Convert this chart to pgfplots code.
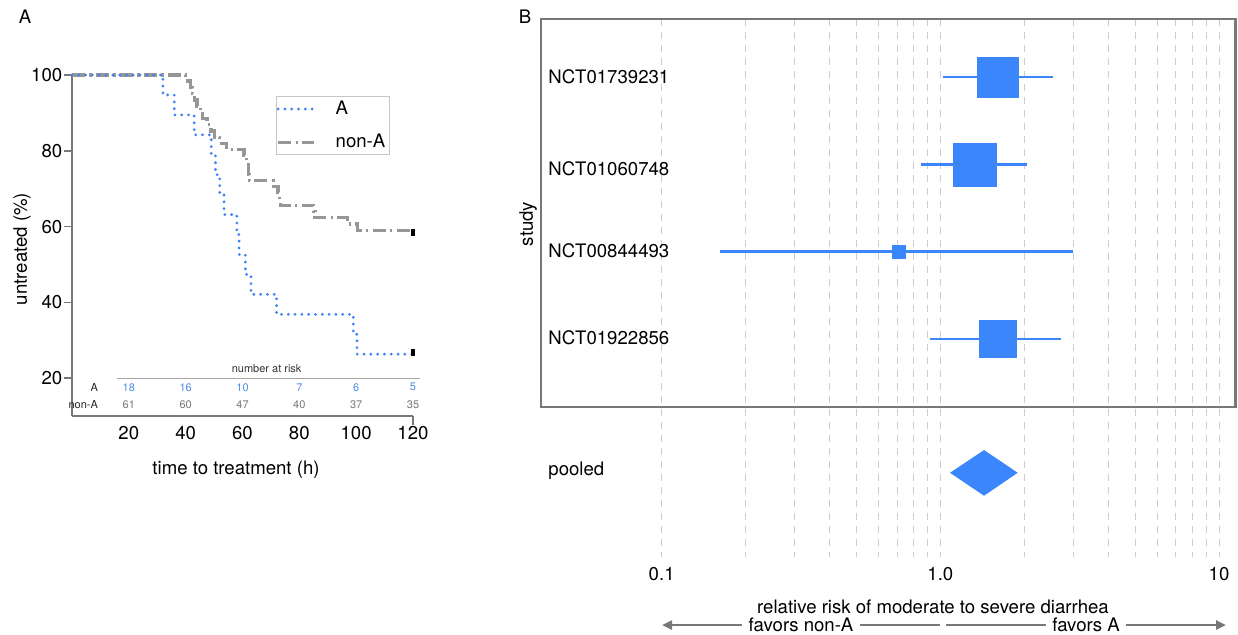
\documentclass[border=0pt]{standalone}
\usepackage{fontspec}
\setmainfont{TeX Gyre Heros}
\usepackage{pgfplots}
\pgfplotsset{compat=1.18}
\usetikzlibrary{arrows.meta}

\definecolor{kmblue}{RGB}{60,132,245}
\definecolor{kmgray}{RGB}{150,150,150}
\definecolor{fblue}{RGB}{59,134,250}
\definecolor{axgray}{RGB}{120,120,120}
\definecolor{gridgray}{RGB}{205,205,205}
\definecolor{riskblue}{RGB}{80,140,230}
\definecolor{riskgray}{RGB}{120,120,120}

\newcommand{\mainfont}{\fontsize{9.3}{11}\selectfont}
\newcommand{\smallfont}{\fontsize{5.5}{6.5}\selectfont}

\pgfplotsset{
  /pgf/number format/assume math mode=true,
  astyle/.style={kmblue, line width=1.55pt, line cap=round, dash pattern=on 0pt off 3.4pt},
  nstyle/.style={kmgray, line width=1.6pt, dash pattern=on 6.5pt off 2.2pt on 1.1pt off 2.2pt},
}

\begin{document}
\begin{tikzpicture}[font=\mainfont]
\path[use as bounding box] (0pt,0pt) rectangle (619pt,-317pt);

% ---- panel A: time to treatment
\begin{axis}[
  at={(36pt,-208pt)}, anchor=south west,
  scale only axis, width=170.5pt, height=170.5pt,
  xmin=0, xmax=120, ymin=10, ymax=100,
  axis x line*=bottom, axis y line*=left,
  axis line style={-, axgray, line width=0.85pt},
  xtick={20,40,60,80,100,120},
  ytick={20,40,60,80,100},
  tick align=outside, major tick length=4.2pt,
  y tick style={axgray, line width=0.8pt},
  x tick style={draw=none},
  tick label style={font=\mainfont},
  xticklabel style={anchor=center, yshift=-4.25pt},
  yticklabel style={inner xsep=0.5pt},
  clip=false,
  legend style={at={(0.598,0.938)}, anchor=north west, draw=gray!45,
    line width=0.6pt, inner xsep=0pt, inner ysep=0pt, row sep=4.5pt,
    font=\mainfont,
    /tikz/every odd column/.append style={column sep=8pt}},
  legend cell align=left,
  legend image code/.code={\draw[#1] (0pt,0pt) -- (18pt,0pt);},
]
\addlegendimage{astyle}
\addlegendentry{A}
\addlegendimage{nstyle}
\addlegendentry{non-A}

\addplot[const plot, nstyle, forget plot] coordinates {
  (0,100) (40,98.4) (41.8,96.7) (42.4,95.1) (43.2,93.4) (44,91.8)
  (45.3,90.2) (46,88.5) (47.5,86.9) (48.9,85.2) (50.2,83.6) (52,82.0)
  (54.5,80.3) (60.5,78.7) (61.5,77.0) (62,75.4) (62.2,73.8) (62.4,72.1)
  (71,70.5) (72.5,68.9) (73,67.2) (73.3,65.6) (85,64.0) (85.5,62.3)
  (96.9,60.7) (100.4,59.0) (120,59.0)
};
\addplot[const plot, astyle, forget plot] coordinates {
  (0,100) (32,94.74) (36,89.47) (43,84.21) (49,78.95) (50.5,73.68)
  (52,68.42) (53.5,63.16) (58,57.89) (58.8,52.63) (61,47.37) (63,42.11)
  (72,36.84) (99,31.58) (100.3,26.32) (120,26.32)
};
% censoring marks
\addplot[only marks, mark=|, mark size=1.75pt, mark options={black, line width=1.6pt}, forget plot]
  coordinates {(120,26.8) (120,58.4)};

\draw[axgray, line width=0.85pt] (axis cs:120,10) -- ++(0pt,-4.5pt);

% number at risk
\draw[gray!70, line width=0.6pt] (axis cs:15.7,20) -- (axis cs:122.4,20);
\node[font=\smallfont, text=black!80] at (axis cs:68.5,22.4) {number at risk};
\node[font=\smallfont, anchor=east, text=black!85] at (axis cs:11.6,17.6) {A};
\node[font=\smallfont, anchor=east, text=black!85] at (axis cs:11.6,12.9) {non-A};
\node[font=\smallfont, text=riskblue] at (axis cs:20,17.6) {18};
\node[font=\smallfont, text=riskblue] at (axis cs:40,17.6) {16};
\node[font=\smallfont, text=riskblue] at (axis cs:60,17.6) {10};
\node[font=\smallfont, text=riskblue] at (axis cs:80,17.6) {7};
\node[font=\smallfont, text=riskblue] at (axis cs:100,17.6) {6};
\node[font=\smallfont, text=riskblue] at (axis cs:120,17.6) {5};
\node[font=\smallfont, text=riskgray] at (axis cs:20,12.9) {61};
\node[font=\smallfont, text=riskgray] at (axis cs:40,12.9) {60};
\node[font=\smallfont, text=riskgray] at (axis cs:60,12.9) {47};
\node[font=\smallfont, text=riskgray] at (axis cs:80,12.9) {40};
\node[font=\smallfont, text=riskgray] at (axis cs:100,12.9) {37};
\node[font=\smallfont, text=riskgray] at (axis cs:120,12.9) {35};
\end{axis}

% ---- panel B: relative risk
\begin{axis}[
  at={(270.5pt,-9.5pt)}, anchor=north west,
  scale only axis, width=347.35pt, height=269pt,
  xmode=log, xmin=0.0369, xmax=11.48,
  ymin=-0.664, ymax=5.498, y dir=reverse,
  axis line style={draw=none},
  ytick=\empty,
  xtick={0.1,1,10}, xticklabels={0.1,1.0,10},
  minor xtick={0.2,0.3,0.4,0.5,0.6,0.7,0.8,0.9,2,3,4,5,6,7,8,9},
  xmajorgrids, xminorgrids,
  major grid style={gridgray, line width=0.5pt, dash pattern=on 3.5pt off 3pt},
  minor grid style={gridgray, line width=0.5pt, dash pattern=on 3.5pt off 3pt},
  tick style={draw=none},
  tick label style={font=\mainfont},
  xticklabel style={anchor=center, yshift=-8.5pt},
  clip=false,
]
\draw[axgray, line width=1.3pt] (axis cs:0.0369,-0.664) rectangle (axis cs:11.48,3.78);

% confidence intervals
\addplot[fblue, line width=1.3pt] coordinates {(1.02,0) (2.545,0)};
\addplot[fblue, line width=1.3pt] coordinates {(0.851,1) (2.052,1)};
\addplot[fblue, line width=1.3pt] coordinates {(0.162,2) (3.001,2)};
\addplot[fblue, line width=1.3pt] coordinates {(0.918,3) (2.705,3)};
% point estimates
\addplot[only marks, mark=square*, mark size=10.1pt, mark options={fill=fblue, draw=fblue, line width=0.2pt}] coordinates {(1.609,0)};
\addplot[only marks, mark=square*, mark size=10.7pt, mark options={fill=fblue, draw=fblue, line width=0.2pt}] coordinates {(1.332,1)};
\addplot[only marks, mark=square*, mark size=3.4pt, mark options={fill=fblue, draw=fblue, line width=0.2pt}] coordinates {(0.710,2)};
\addplot[only marks, mark=square*, mark size=9.3pt, mark options={fill=fblue, draw=fblue, line width=0.2pt}] coordinates {(1.609,3)};
% pooled estimate
\addplot[fill=fblue, draw=none] coordinates {
  (1.083,4.533) (1.435,4.273) (1.896,4.533) (1.435,4.796)
} -- cycle;

\node[anchor=west, inner xsep=0pt] at (axis cs:0.0391,0) {NCT01739231};
\node[anchor=west, inner xsep=0pt] at (axis cs:0.0391,1.05) {NCT01060748};
\node[anchor=west, inner xsep=0pt] at (axis cs:0.0391,1.99) {NCT00844493};
\node[anchor=west, inner xsep=0pt] at (axis cs:0.0391,2.99) {NCT01922856};
\node[anchor=west, inner xsep=0pt] at (axis cs:0.0391,4.51) {pooled};
\end{axis}

% ---- titles and labels
\begin{scope}[x=0.5pt, y=-0.5pt]
\node at (25,17) {A};
\node at (525,17) {B};
\node[rotate=90] at (22,249) {untreated (\%)};
\node at (236,470) {time to treatment (h)};
\node[rotate=90] at (528,224) {study};
\node at (933,607) {relative risk of moderate to severe diarrhea};
\draw[axgray, line width=1.2pt, -{Triangle[length=5pt,width=4.5pt]}] (940,625) -- (662,625)
  node[midway, fill=white, inner xsep=3.3pt, inner ysep=0.5pt, text=black] {favors non-A};
\draw[axgray, line width=1.2pt, -{Triangle[length=5pt,width=4.5pt]}] (946,625) -- (1226,625)
  node[midway, fill=white, inner xsep=3.3pt, inner ysep=0.5pt, text=black] {favors A};
\end{scope}
\end{tikzpicture}
\end{document}
